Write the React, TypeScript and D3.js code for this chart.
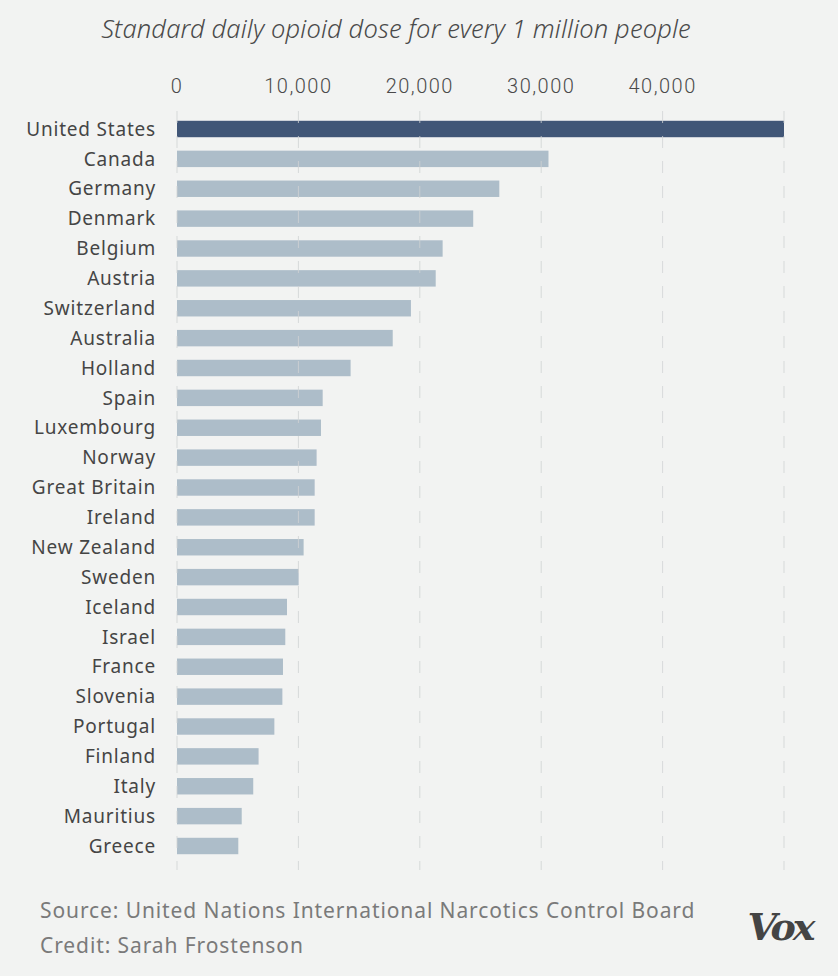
import React from "react";
import * as d3 from "d3";

const countries = [
  "United States", "Canada", "Germany", "Denmark", "Belgium", "Austria",
  "Switzerland", "Australia", "Holland", "Spain", "Luxembourg", "Norway",
  "Great Britain", "Ireland", "New Zealand", "Sweden", "Iceland", "Israel",
  "France", "Slovenia", "Portugal", "Finland", "Italy", "Mauritius", "Greece",
];
const doses = [
  50000, 30600, 26550, 24400, 21880, 21310,
  19270, 17770, 14300, 12000, 11860, 11500,
  11340, 11340, 10430, 10020, 9060, 8920,
  8730, 8680, 8020, 6720, 6280, 5330, 5050,
];
const tickValues = [0, 10000, 20000, 30000, 40000];
const gridValues = [0, 10000, 20000, 30000, 40000, 50000];
const highlight = "United States";

const title = "Standard daily opioid dose for every 1 million people";
const sourceText = "Source: United Nations International Narcotics Control Board";
const creditText = "Credit: Sarah Frostenson";

const W = 838;
const H = 976;

export default function App() {
  const x = d3.scaleLinear().domain([0, 50000]).range([177, 784]);
  const step = 29.875;
  const y0 = 129 - step / 2;
  const y = d3
    .scaleBand<string>()
    .domain(countries)
    .range([y0, y0 + countries.length * step])
    .paddingInner(0.45)
    .paddingOuter(0.225);
  const fmt = d3.format(",");
  const font = "'Noto Sans', 'Open Sans', sans-serif";

  return (
    <svg
      width={W}
      height={H}
      style={{ position: "absolute", left: 0, top: 0 }}
      xmlns="http://www.w3.org/2000/svg"
    >
      <rect x={0} y={0} width={W} height={H} fill="#f2f3f2" />
      <text
        x={396}
        y={38}
        textAnchor="middle"
        fontFamily={font}
        fontStyle="italic"
        fontWeight={300}
        fontSize={25.5}
        fill="#4a4a4a"
        letterSpacing={0.15}
      >
        {title}
      </text>
      {tickValues.map((t) => (
        <text
          key={t}
          x={x(t)}
          y={93}
          textAnchor="middle"
          fontFamily="Roboto, sans-serif"
          fontWeight={300}
          fontSize={20}
          letterSpacing={1.5}
          fill="#4a4a4a"
        >
          {fmt(t)}
        </text>
      ))}
      {countries.map((c, i) => (
        <g key={c}>
          <rect
            x={x(0)}
            y={y(c)}
            width={x(doses[i]) - x(0)}
            height={y.bandwidth()}
            fill={c === highlight ? "#415677" : "#adbdc9"}
          />
          <text
            x={156}
            y={(y(c) as number) + y.bandwidth() / 2}
            dy="0.35em"
            textAnchor="end"
            fontFamily={font}
            fontSize={19}
            letterSpacing={0.8}
            fill="#454545"
          >
            {c}
          </text>
        </g>
      ))}
      {gridValues.map((g) => (
        <line
          key={g}
          x1={x(g)}
          x2={x(g)}
          y1={111}
          y2={870}
          stroke="#cfd2d3"
          strokeOpacity={0.8}
          strokeWidth={1}
          strokeDasharray="12,13"
        />
      ))}
      <text
        x={40}
        y={918}
        fontFamily={font}
        fontSize={21}
        letterSpacing={0.9}
        fill="#7a7a7a"
      >
        {sourceText}
      </text>
      <text
        x={40}
        y={953}
        fontFamily={font}
        fontSize={21}
        letterSpacing={0.9}
        fill="#7a7a7a"
      >
        {creditText}
      </text>
      <text
        x={780}
        y={940}
        textAnchor="middle"
        fontFamily="'DejaVu Serif', serif"
        fontStyle="italic"
        fontWeight="bold"
        fontSize={38}
        letterSpacing={-3}
        fill="#444"
      >
        Vox
      </text>
    </svg>
  );
}
